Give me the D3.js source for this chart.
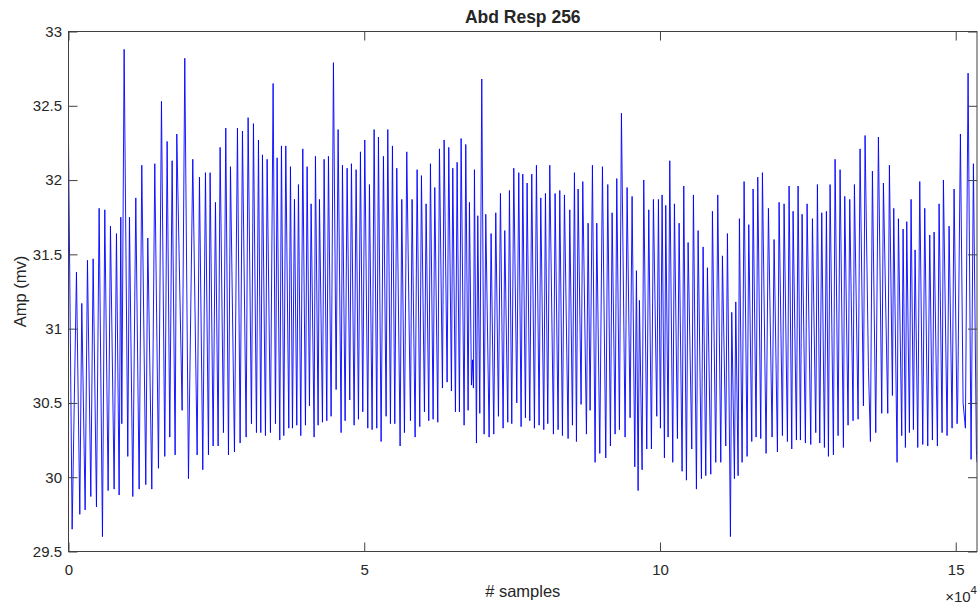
<!DOCTYPE html>
<html>
<head>
<meta charset="utf-8">
<script src="https://cdn.jsdelivr.net/npm/d3@7"></script>
<style>
  body { margin: 0; background: #fff; }
  text { font-family: "Liberation Sans", Arial, Helvetica, sans-serif; fill: #262626; }
</style>
</head>
<body>
<div id="chart-area"></div>
<script>
// Abd Resp, 256 Hz, turning points (peaks / troughs)
var turnSamples = [
	0, 614, 1347, 1910, 2248, 2812, 3206, 3770, 4164, 4728, 5179, 5742, 6137, 6700, 7095, 7715,
	8109, 8560, 8842, 9011, 9405, 10025, 10307, 10871, 11378, 11941, 12392, 13068, 13406, 14083,
	14590, 15210, 15717, 16280, 16675, 17126, 17520, 18027, 18309, 19211, 19662, 20282, 21014,
	21747, 22141, 22705, 23156, 23663, 23944, 24452, 24846, 25297, 25635, 26199, 26593, 27044,
	27382, 28058, 28565, 29016, 29411, 30031, 30369, 30932, 31270, 31778, 32116, 32510, 32792,
	33299, 33581, 34144, 34595, 34990, 35271, 35722, 36004, 36399, 36737, 37244, 37526, 37864,
	38202, 38597, 38878, 39273, 39611, 40062, 40343, 40738, 41020, 41527, 41752, 42203, 42429,
	42936, 43217, 43668, 43950, 44401, 44795, 45246, 45584, 46091, 46317, 46767, 47106, 47556,
	47838, 48289, 48627, 49022, 49360, 49754, 50092, 50600, 50881, 51332, 51670, 52121, 52403,
	52854, 53248, 53699, 53981, 54432, 54770, 55165, 55503, 56066, 56348, 56799, 57193, 57813,
	58094, 58602, 58940, 59391, 59672, 60180, 60461, 60912, 61194, 61645, 61927, 62434, 62715,
	63223, 63505, 64012, 64294, 64744, 64970, 65421, 65703, 66097, 66379, 66886, 67168, 67563,
	67788, 68126, 68295, 68464, 68633, 68971, 69197, 69535, 69873, 70267, 70549, 71113, 71450,
	71901, 72239, 72690, 73028, 73479, 73760, 74268, 74550, 74944, 75282, 75790, 76128, 76522,
	76804, 77255, 77537, 77987, 78326, 78776, 79114, 79565, 79847, 80354, 80636, 81030, 81369,
	81988, 82270, 82777, 83059, 83510, 83848, 84468, 84750, 85201, 85539, 85877, 86159, 86666,
	86948, 87568, 87850, 88188, 88582, 89033, 89315, 89822, 90273, 90836, 91174, 91625, 91907,
	92414, 92696, 93147, 93485, 94105, 94443, 94950, 95288, 95739, 96021, 96302, 96528, 96978,
	97260, 97767, 98106, 98556, 98894, 99458, 99740, 100078, 100360, 100754, 100979, 101374,
	101656, 102163, 102445, 102952, 103234, 103741, 104023, 104474, 104756, 105376, 105657,
	106165, 106446, 107010, 107292, 107743, 108025, 108588, 108870, 109433, 109771, 110279,
	110560, 111124, 111406, 111913, 112138, 112589, 112815, 113209, 113435, 113886, 114224,
	114731, 115013, 115519, 115745, 116252, 116534, 117040, 117322, 117942, 118336, 118956,
	119294, 119858, 120139, 120703, 120985, 121548, 121830, 122281, 122506, 123070, 123351,
	123746, 124028, 124591, 124873, 125493, 125775, 126338, 126620, 127015, 127353, 127803,
	128141, 128480, 128761, 129325, 129606, 130113, 130451, 131015, 131240, 131803, 132085,
	132649, 132874, 133494, 133832, 134395, 134677, 135242, 135580, 135918, 136482, 136932,
	137496, 137778, 138511, 138793, 139300, 139525, 140089, 140314, 140877, 141103, 141497,
	141723, 142174, 142455, 142850, 143132, 143583, 143921, 144428, 144766, 145273, 145611,
	146062, 146344, 146907, 147189, 147696, 147922, 148542, 148880, 149387, 149725, 150232,
	150345, 150796, 151247, 151641, 152093, 152600, 152994, 153501, 153600
];
var turnAmps = [
	32.25, 29.65, 31.38, 29.75, 31.17, 29.78, 31.46, 29.87, 31.47, 29.80, 31.81, 29.60, 31.80, 29.91, 31.69, 29.92,
	31.64, 29.88, 31.75, 30.36, 32.88, 30.14, 31.75, 29.87, 31.88, 29.92, 32.10, 29.95, 31.61, 29.92,
	32.11, 30.06, 32.53, 30.14, 32.26, 30.27, 32.13, 30.15, 32.31, 30.45, 32.82, 29.99, 32.14,
	30.15, 32.02, 30.05, 32.05, 30.15, 32.05, 30.21, 31.85, 30.21, 32.22, 30.30, 32.35, 30.15,
	32.09, 30.17, 32.35, 30.23, 32.33, 30.27, 32.42, 30.36, 32.38, 30.30, 32.27, 30.30, 32.17,
	30.28, 32.14, 30.30, 32.65, 30.36, 32.15, 30.25, 32.23, 30.28, 32.23, 30.33, 32.09, 30.33,
	31.87, 30.35, 31.97, 30.28, 32.21, 30.35, 32.09, 30.48, 31.84, 30.27, 32.16, 30.35, 31.87,
	30.37, 32.14, 30.38, 32.16, 30.41, 32.79, 30.59, 32.34, 30.30, 32.10, 30.38, 32.08, 30.52,
	32.11, 30.35, 32.07, 30.39, 32.19, 30.44, 32.27, 30.33, 31.97, 30.32, 32.34, 30.33, 32.29,
	30.24, 32.16, 30.41, 32.34, 30.36, 32.23, 30.36, 32.08, 30.21, 31.87, 30.30, 32.19, 30.38,
	31.87, 30.27, 32.07, 30.34, 32.03, 30.44, 31.84, 30.38, 32.11, 30.39, 31.95, 30.37, 32.21,
	30.60, 32.27, 30.64, 32.22, 30.58, 32.08, 30.44, 32.12, 30.44, 32.28, 30.35, 32.24, 30.45,
	31.85, 30.62, 30.79, 30.60, 32.07, 30.23, 31.76, 30.43, 32.68, 30.29, 31.77, 30.27, 31.64,
	30.29, 31.78, 30.41, 31.91, 30.33, 31.66, 30.37, 31.93, 30.36, 32.08, 30.50, 32.05, 30.34,
	32.04, 30.40, 31.98, 30.38, 32.04, 30.33, 32.10, 30.35, 31.88, 30.32, 31.91, 30.36, 32.10,
	30.29, 31.91, 30.32, 31.93, 30.28, 31.90, 30.26, 31.80, 30.35, 32.05, 30.24, 31.94, 30.49,
	31.99, 30.29, 31.71, 30.45, 32.10, 30.10, 31.71, 30.16, 32.09, 30.13, 31.97, 30.21, 31.78,
	30.29, 32.01, 30.32, 32.45, 30.27, 31.95, 30.40, 31.89, 30.07, 31.39, 29.91, 31.19, 30.05,
	32.00, 30.19, 31.80, 30.19, 31.87, 30.41, 31.87, 30.33, 31.90, 30.13, 31.83, 30.27,
	32.13, 30.10, 31.84, 30.26, 31.71, 30.04, 31.96, 29.98, 31.58, 30.19, 31.90,
	29.92, 31.66, 29.99, 31.55, 30.01, 31.41, 30.02, 31.79, 30.10, 31.90, 30.10,
	31.49, 30.21, 31.64, 29.60, 31.11, 29.99, 31.18, 30.01, 31.74, 30.10, 31.99,
	30.14, 31.70, 30.24, 31.94, 30.27, 32.02, 30.26, 32.05, 30.16, 31.81, 30.27,
	31.60, 30.17, 31.85, 30.28, 31.84, 30.24, 31.96, 30.19, 31.79, 30.25, 31.96,
	30.25, 31.77, 30.23, 31.84, 30.22, 31.74, 30.30, 31.97, 30.23, 31.78, 30.20,
	31.79, 30.14, 31.97, 30.15, 32.14, 30.28, 32.07, 30.20, 31.89, 30.35, 31.87,
	30.38, 31.97, 30.39, 32.21, 30.48, 32.30, 30.74, 30.24, 32.06, 30.30, 32.29,
	30.43, 31.98, 30.43, 32.10, 30.55, 31.81, 30.10, 31.74, 30.28, 31.67, 30.20,
	31.72, 30.30, 31.87, 30.32, 31.53, 30.20, 31.99, 30.22, 31.81, 30.21, 31.63,
	30.25, 31.65, 30.21, 31.84, 30.30, 32.00, 30.28, 31.69, 30.33, 31.94, 30.36,
	30.52, 32.31, 30.50, 30.33, 32.72, 30.12, 32.11, 30.18, 30.10
];
var yTicks = [29.5, 30, 30.5, 31, 31.5, 32, 32.5, 33];
var xTicks = [0, 50000, 100000, 150000];
var xTickLabels = ["0", "5", "10", "15"];

var data = turnSamples.map(function(s, i) { return {s: s, v: turnAmps[i]}; });

var W = 979, H = 604;
var box = {left: 68.5, right: 977, top: 31.5, bottom: 551.5};

var svg = d3.select("#chart-area")
	.append("svg")
		.attr("width", W)
		.attr("height", H);

var x = d3.scaleLinear()
	.domain([0, 153600])
	.range([box.left, box.right]);

var y = d3.scaleLinear()
	.domain([29.5, 33])
	.range([box.bottom, box.top]);

svg.append("clipPath").attr("id", "clip")
	.append("rect")
		.attr("x", box.left).attr("y", box.top)
		.attr("width", box.right - box.left).attr("height", box.bottom - box.top);

// signal
var line = d3.line()
	.x(function(d) { return x(d.s); })
	.y(function(d) { return y(d.v); });

svg.append("path")
	.datum(data)
	.attr("clip-path", "url(#clip)")
	.attr("fill", "none")
	.attr("stroke", "#0000ff")
	.attr("stroke-width", 0.9)
	.attr("stroke-linejoin", "round")
	.attr("d", line);

// axes, ticks pointing inward on all four sides
var axisColor = "#404040";

var xAxisGroup = svg.append("g")
	.attr("transform", "translate(0," + box.bottom + ")")
	.call(d3.axisBottom(x).tickValues(xTicks)
		.tickFormat(function(d, i) { return xTickLabels[i]; })
		.tickSizeInner(-9).tickSizeOuter(0).tickPadding(12.5));

var xTopGroup = svg.append("g")
	.attr("transform", "translate(0," + box.top + ")")
	.call(d3.axisTop(x).tickValues(xTicks).tickFormat("").tickSizeInner(-9).tickSizeOuter(0));

var yAxisGroup = svg.append("g")
	.attr("transform", "translate(" + box.left + ",0)")
	.call(d3.axisLeft(y).tickValues(yTicks)
		.tickFormat(function(d) { return String(d); })
		.tickSizeInner(-9).tickSizeOuter(0).tickPadding(6.5));

var yRightGroup = svg.append("g")
	.attr("transform", "translate(" + box.right + ",0)")
	.call(d3.axisRight(y).tickValues(yTicks).tickFormat("").tickSizeInner(-9).tickSizeOuter(0));

svg.selectAll(".domain").remove();
svg.selectAll(".tick line").attr("stroke", axisColor);
svg.selectAll(".tick text")
	.attr("font-family", "Liberation Sans, Arial, Helvetica, sans-serif")
	.attr("font-size", "15px")
	.attr("fill", "#262626");

svg.append("rect")
	.attr("x", box.left).attr("y", box.top)
	.attr("width", box.right - box.left).attr("height", box.bottom - box.top)
	.attr("fill", "none")
	.attr("stroke", axisColor)
	.attr("stroke-width", 1);

// exponent label
var expLabel = svg.append("text")
	.attr("x", box.right)
	.attr("y", 602)
	.attr("text-anchor", "end")
	.attr("font-size", "15px");
expLabel.append("tspan").text("\u00d710");
expLabel.append("tspan").attr("dy", -8).attr("font-size", "11.5px").text("4");

// Title
svg.append("text")
	.attr("x", (box.left + box.right) / 2)
	.attr("y", 23)
	.attr("text-anchor", "middle")
	.attr("font-size", "17.5px")
	.attr("font-weight", "bold")
	.attr("fill", "#000")
	.text("Abd Resp 256");

// X label
svg.append("text")
	.attr("x", (box.left + box.right) / 2)
	.attr("y", 597)
	.attr("text-anchor", "middle")
	.attr("font-size", "16.5px")
	.text("# samples");

// Y label
svg.append("text")
	.attr("x", -(box.top + box.bottom) / 2)
	.attr("y", 26)
	.attr("text-anchor", "middle")
	.attr("font-size", "16.5px")
	.attr("transform", "rotate(-90)")
	.text("Amp (mv)");
</script>
</body>
</html>
